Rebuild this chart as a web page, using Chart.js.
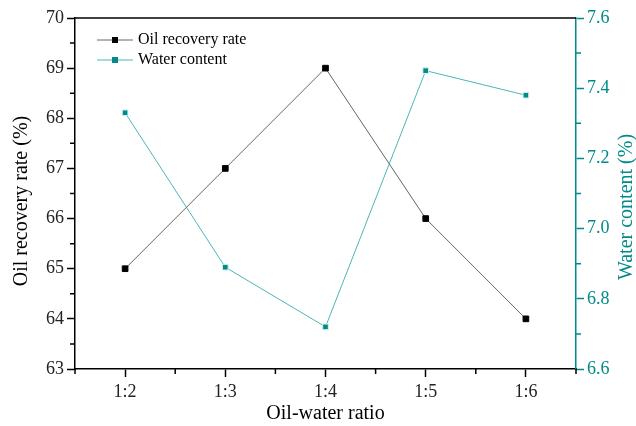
<!DOCTYPE html>
<html>
<head>
<meta charset="utf-8">
<script src="https://cdn.jsdelivr.net/npm/chart.js@4.4.1/dist/chart.umd.min.js"></script>
<style>
  html, body { margin: 0; padding: 0; background: #fff; }
  canvas { display: block; }
</style>
</head>
<body>
<canvas id="chart" width="636" height="426"></canvas>
<script>
// data
const ratios = ['1:2', '1:3', '1:4', '1:5', '1:6'];
const oilRecovery = [65, 67, 69, 66, 64];
const waterContent = [7.33, 6.89, 6.72, 7.45, 7.38];
const leftTicks = [63, 64, 65, 66, 67, 68, 69, 70];
const rightTicks = [6.6, 6.8, 7.0, 7.2, 7.4, 7.6];

const FONT = '"Liberation Serif", "Times New Roman", serif';
const TEAL = '#008a8a';
const TEAL_LINE = '#4fb5b5';

// legend, frame top, minor ticks and rotated titles
const extras = {
    id: 'extras',
    afterDraw(chart) {
        const c = chart.ctx;
        const a = chart.chartArea;
        const x = chart.scales.x, y = chart.scales.y, y1 = chart.scales.y1;
        c.save();
        // top frame line
        c.strokeStyle = '#000';
        c.lineWidth = 1.5;
        c.beginPath();
        c.moveTo(a.left, a.top);
        c.lineTo(a.right, a.top);
        c.stroke();

        // minor ticks
        c.lineWidth = 1.5;
        c.strokeStyle = '#000';
        c.beginPath();
        for (let v = 63.5; v < 70; v += 1) {
            const p = y.getPixelForValue(v);
            c.moveTo(a.left, p); c.lineTo(a.left - 5, p);
        }
        for (let v = -0.5; v <= 4.5; v += 1) {
            const p = x.getPixelForValue(v);
            c.moveTo(p, a.bottom); c.lineTo(p, a.bottom + 5);
        }
        c.stroke();
        c.strokeStyle = TEAL;
        c.beginPath();
        for (let v = 6.7; v < 7.6; v += 0.2) {
            const p = y1.getPixelForValue(v);
            c.moveTo(a.right, p); c.lineTo(a.right + 5, p);
        }
        c.stroke();

        // axis titles
        c.font = '20px ' + FONT;
        c.textAlign = 'center';
        c.textBaseline = 'middle';
        c.fillStyle = '#000';
        c.fillText('Oil-water ratio', (a.left + a.right) / 2, 414);
        c.save();
        c.translate(22, 201);
        c.rotate(-Math.PI / 2);
        c.fillText('Oil recovery rate (%)', 0, 0);
        c.restore();
        c.save();
        c.fillStyle = TEAL;
        c.translate(627, 207);
        c.rotate(-Math.PI / 2);
        c.fillText('Water content (%)', 0, 0);
        c.restore();

        // legend
        c.font = '16px ' + FONT;
        c.textAlign = 'left';
        chart.data.datasets.forEach((ds, i) => {
            const ly = 40 + i * 20;
            c.strokeStyle = ds.borderColor;
            c.lineWidth = 1;
            c.beginPath();
            c.moveTo(97, ly); c.lineTo(133, ly);
            c.stroke();
            c.fillStyle = ds.pointBackgroundColor;
            c.fillRect(112, ly - 3, 6, 6);
            c.fillStyle = '#000';
            c.fillText(ds.label, 138, ly);
        });
        c.restore();
    }
};

new Chart(document.getElementById('chart'), {
    type: 'line',
    data: {
        datasets: [{
            label: 'Oil recovery rate',
            data: oilRecovery.map((v, i) => ({ x: i, y: v })),
            yAxisID: 'y',
            borderColor: '#666',
            borderWidth: 1,
            pointStyle: 'rect',
            pointRadius: 4,
            pointBackgroundColor: '#000',
            pointBorderColor: '#000',
            pointBorderWidth: 1
        }, {
            label: 'Water content',
            data: waterContent.map((v, i) => ({ x: i, y: v })),
            yAxisID: 'y1',
            borderColor: TEAL_LINE,
            borderWidth: 1,
            pointStyle: 'rect',
            pointRadius: 4,
            pointBackgroundColor: TEAL,
            pointBorderColor: '#d8f0f0',
            pointBorderWidth: 1
        }]
    },
    options: {
        responsive: false,
        animation: false,
        layout: { padding: { top: 18, right: 0, bottom: 0, left: 0 } },
        plugins: {
            legend: { display: false },
            tooltip: { enabled: false }
        },
        scales: {
            x: {
                type: 'linear',
                min: -0.5,
                max: 4.5,
                afterBuildTicks: s => { s.ticks = ratios.map((r, i) => ({ value: i })); },
                afterFit: s => { s.height = 57; },
                border: { color: '#000', width: 1.5 },
                grid: { drawOnChartArea: false, tickLength: 8, tickColor: '#000', tickWidth: 1.5 },
                ticks: {
                    font: { family: FONT, size: 18 },
                    color: '#222',
                    padding: 4,
                    callback: v => ratios[v]
                }
            },
            y: {
                position: 'left',
                min: 63,
                max: 70,
                afterBuildTicks: s => { s.ticks = leftTicks.map(v => ({ value: v })); },
                afterFit: s => { s.width = 75; },
                border: { color: '#000', width: 1.5 },
                grid: { drawOnChartArea: false, tickLength: 8, tickColor: '#000', tickWidth: 1.5 },
                ticks: {
                    font: { family: FONT, size: 18 },
                    color: '#222',
                    padding: 3
                }
            },
            y1: {
                position: 'right',
                min: 6.6,
                max: 7.6,
                afterBuildTicks: s => { s.ticks = rightTicks.map(v => ({ value: v })); },
                afterFit: s => { s.width = 60; },
                border: { color: TEAL, width: 1.5 },
                grid: { drawOnChartArea: false, tickLength: 8, tickColor: TEAL, tickWidth: 1.5 },
                ticks: {
                    font: { family: FONT, size: 18 },
                    color: TEAL,
                    padding: 3,
                    callback: v => v.toFixed(1)
                }
            }
        }
    },
    plugins: [extras]
});
</script>
</body>
</html>
